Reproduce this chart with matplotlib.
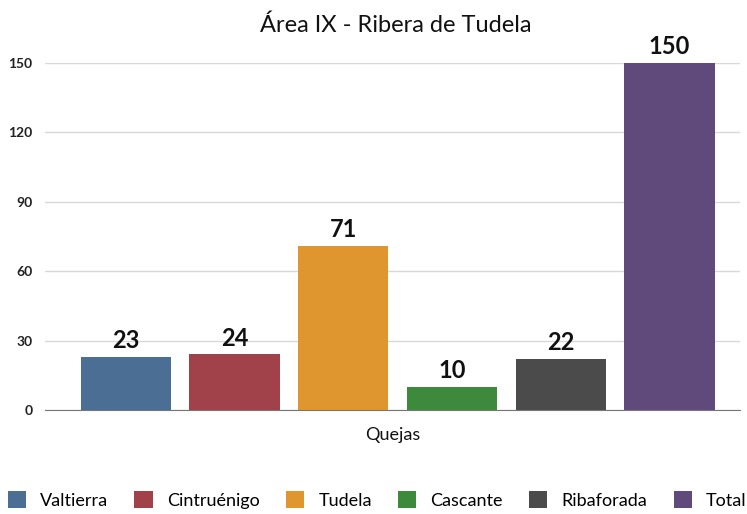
import matplotlib.pyplot as plt

plt.rcParams['font.family'] = ['Lato', 'DejaVu Sans']

municipios = ['Valtierra', 'Cintruénigo', 'Tudela', 'Cascante', 'Ribaforada', 'Total']
quejas = [23, 24, 71, 10, 22, 150]
colores = ['#4a6e94', '#a1424b', '#e0962f', '#3e8a3d', '#4b4b4b', '#604a7c']
yticks = [0, 30, 60, 90, 120, 150]

fig = plt.figure(figsize=(7.47, 5.14), dpi=100)
ax = fig.add_axes([0.06, 0.2023, 0.931, 0.6751])

x = range(len(quejas))
bars = ax.bar(x, quejas, width=0.83, color=colores, label=municipios, zorder=3)
for b, v in zip(bars, quejas):
    ax.text(b.get_x() + b.get_width() / 2, v + 2, str(v), ha='center', va='bottom',
            fontsize=17, fontweight='bold', color='#111111', clip_on=False)

ax.set_ylim(0, 150)
ax.set_xlim(-0.745, 5.65)
ax.set_yticks(yticks)
ax.set_yticklabels([str(t) for t in yticks], fontsize=10, fontweight='bold', color='#222222')
ax.tick_params(axis='y', length=0, pad=9)
ax.set_xticks([])
ax.grid(axis='y', color='#d8d8d8', linewidth=1, zorder=0)
for s in ['top', 'right', 'left']:
    ax.spines[s].set_visible(False)
ax.spines['bottom'].set_color('#777777')
ax.spines['bottom'].set_zorder(4)

ax.set_xlabel('Quejas', fontsize=13, color='#111111', labelpad=12)
fig.text(0.53, 0.95, 'Área IX - Ribera de Tudela', ha='center', va='center', fontsize=17, color='#111111')

fig.legend(handles=bars, labels=municipios, loc='center', bbox_to_anchor=(0.505, 0.027), ncol=6,
           frameon=False, fontsize=13, handlelength=1.0, handleheight=1.0, columnspacing=1.45,
           handletextpad=0.8)

fig.savefig('out.png', dpi=100)
